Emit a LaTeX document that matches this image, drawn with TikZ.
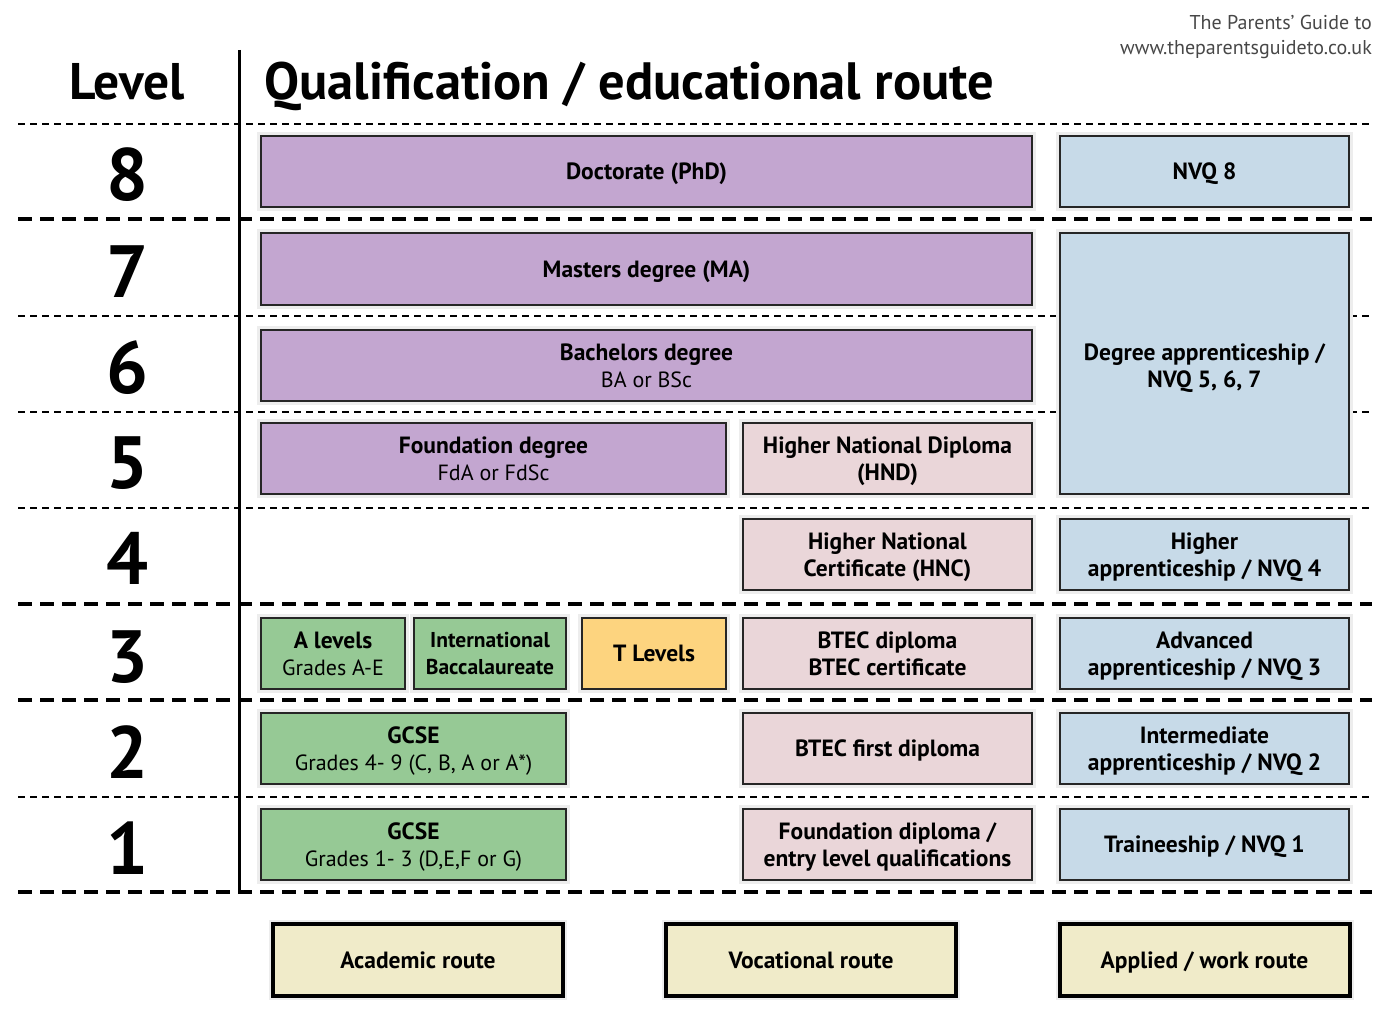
\documentclass[tikz,border=0pt]{standalone}
\usepackage{fontspec}
\setmainfont{PT Sans}

\definecolor{univ}{HTML}{C3A6D0}
\definecolor{work}{HTML}{C7DAE8}
\definecolor{voc}{HTML}{EAD6D9}
\definecolor{acad}{HTML}{96C995}
\definecolor{tlev}{HTML}{FDD47F}
\definecolor{route}{HTML}{F0EBC9}

\newcommand{\sub}[1]{{\fontsize{22}{27}\selectfont\mdseries #1}}

\tikzset{
  qualtext/.style={align=center, inner sep=0pt, text depth=0pt,
    font=\fontsize{23.5}{27}\selectfont\bfseries},
  qual/.style={qualtext, draw=black!85, line width=1.8pt,
    preaction={draw=black!7, line width=8pt}},
  routebox/.style={qual, draw=black, line width=4pt, fill=route,
    minimum width=290, minimum height=72},
  thinrule/.style={line width=1.8pt, dash pattern=on 7pt off 5pt},
  thickrule/.style={line width=4.5pt, dash pattern=on 14pt off 8pt},
  levelnum/.style={font=\fontsize{74}{74}\selectfont\bfseries},
}

\begin{document}
\begin{tikzpicture}[x=1pt, y=-1pt]
    \useasboundingbox (0,0) rectangle (1390,1014);
    % headings
    \node[anchor=base, font=\fontsize{51.5}{51}\selectfont\bfseries] (LVL) at (127,100) {Level};
    \node[anchor=base west, font=\fontsize{52.5}{51}\selectfont\bfseries] (QR) at (261,100) {Qualification / educational route};
    \node[anchor=north east, align=right, text=black!72, inner sep=0pt,
      font=\fontsize{20}{25}\selectfont] (TPG) at (1372,15) {The Parents' Guide to\\www.theparentsguideto.co.uk};
    % rules
    \foreach \y in {124,316,412,508,797}
      \draw[thinrule] (18,\y) -- (1372,\y);
    \foreach \y in {219,604,700,892}
      \draw[thickrule] (18,\y) -- (1372,\y);
    \draw[line width=3pt] (239,50) -- (239,893);
    % levels
    \foreach \n/\y in {8/175,7/272,6/368,5/463,4/558,3/657,2/752,1/848}
      \node[levelnum] (L\n) at (127,\y) {\n};
    % level 8
    \node[qual, fill=univ, minimum width=771, minimum height=71] (PHD) at (646.5,171.5) {Doctorate (PhD)};
    \node[qual, fill=work, minimum width=289, minimum height=71] (NVQE) at (1204.5,171.5) {NVQ 8};
    % level 7, 6
    \node[qual, fill=univ, minimum width=771, minimum height=72] (MA) at (646.5,269) {Masters degree (MA)};
    \node[qual, fill=work, minimum width=289, minimum height=261] (DAP) at (1204.5,363.5) {};
    \node[qualtext] (DAPT) at (1204.5,365.5) {Degree apprenticeship /\\NVQ 5, 6, 7};
    \node[qual, fill=univ, minimum width=771, minimum height=71] (BA) at (646.5,365.5) {Bachelors degree\\\sub{BA or BSc}};
    % level 5
    \node[qual, fill=univ, minimum width=465, minimum height=71] (FDA) at (493.5,458.5) {Foundation degree\\\sub{FdA or FdSc}};
    \node[qual, fill=voc, minimum width=289, minimum height=71] (HND) at (887.5,458.5) {Higher National Diploma\\(HND)};
    % level 4
    \node[qual, fill=voc, minimum width=289, minimum height=71] (HNC) at (887.5,554.5) {Higher National\\Certificate (HNC)};
    \node[qual, fill=work, minimum width=289, minimum height=71] (HAP) at (1204.5,554.5) {Higher\\apprenticeship / NVQ 4};
    % level 3
    \node[qual, fill=acad, minimum width=144, minimum height=71] (AL) at (333,653.5) {A levels\\\sub{Grades A-E}};
    \node[qual, fill=acad, minimum width=152, minimum height=71, font=\fontsize{21.5}{27}\selectfont\bfseries] (IB) at (490,653.5) {International\\Baccalaureate};
    \node[qual, fill=tlev, minimum width=144, minimum height=71] (TL) at (654,653.5) {T Levels};
    \node[qual, fill=voc, minimum width=289, minimum height=71] (BTEC) at (887.5,653.5) {BTEC diploma\\BTEC certificate};
    \node[qual, fill=work, minimum width=289, minimum height=71] (AAP) at (1204.5,653.5) {Advanced\\apprenticeship / NVQ 3};
    % level 2
    \node[qual, fill=acad, minimum width=305, minimum height=71] (GCSEH) at (413.5,748.5) {GCSE\\\sub{Grades 4- 9 (C, B, A or A*)}};
    \node[qual, fill=voc, minimum width=289, minimum height=71] (BTF) at (887.5,748.5) {BTEC first diploma};
    \node[qual, fill=work, minimum width=289, minimum height=71] (IAP) at (1204.5,748.5) {Intermediate\\apprenticeship / NVQ 2};
    % level 1
    \node[qual, fill=acad, minimum width=305, minimum height=71] (GCSEL) at (413.5,844.5) {GCSE\\\sub{Grades 1- 3 (D,E,F or G)}};
    \node[qual, fill=voc, minimum width=289, minimum height=71] (FDIP) at (887.5,844.5) {Foundation diploma /\\entry level qualifications};
    \node[qual, fill=work, minimum width=289, minimum height=71] (TRN) at (1204.5,844.5) {Traineeship / NVQ 1};
    % routes
    \node[routebox] (ACR) at (418,960) {Academic route};
    \node[routebox] (VCR) at (811,960) {Vocational route};
    \node[routebox] (AWR) at (1204.5,960) {Applied / work route};
  \end{tikzpicture}
\end{document}
